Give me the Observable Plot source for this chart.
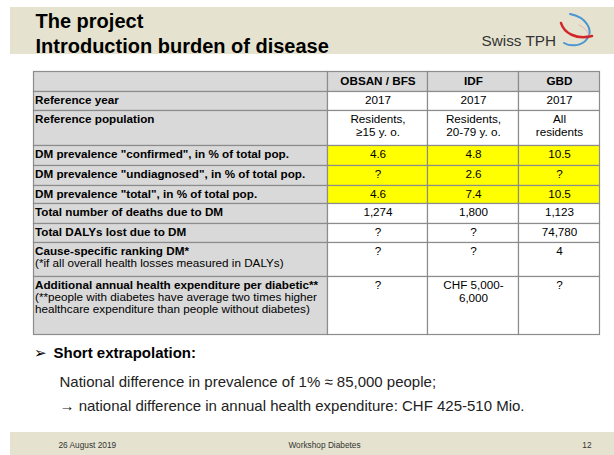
<!DOCTYPE html>
<html>
<head>
<meta charset="utf-8">
<script src="https://cdn.jsdelivr.net/npm/d3@7"></script>
<script src="https://cdn.jsdelivr.net/npm/@observablehq/plot@0.6"></script>
<style>
  html, body { margin: 0; padding: 0; background: #ffffff; }
  #chart svg { display: block; }
</style>
</head>
<body>
<div id="chart"></div>
<script>
// ---------------- DATA ----------------
const titleLines = ["The project", "Introduction burden of disease"];
const brand = "Swiss TPH";
const sources = ["OBSAN / BFS", "IDF", "GBD"];
const indicators = [
  "Reference year",
  "Reference population",
  "DM prevalence \"confirmed\", in % of total pop.",
  "DM prevalence \"undiagnosed\", in % of total pop.",
  "DM prevalence \"total\", in % of total pop.",
  "Total number of deaths due to DM",
  "Total DALYs lost due to DM",
  "Cause-specific ranking DM*",
  "Additional annual health expenditure per diabetic**"
];
const indicatorNotes = [
  "", "", "", "", "", "", "",
  "(*if all overall health losses measured in DALYs)",
  "(**people with diabetes have average two times higher\nhealthcare expenditure than people without diabetes)"
];
const obsanValues = ["2017", "Residents,\n≥15 y. o.", "4.6", "?", "4.6", "1,274", "?", "?", "?"];
const idfValues   = ["2017", "Residents,\n20-79 y. o.", "4.8", "2.6", "7.4", "1,800", "?", "?", "CHF 5,000-\n6,000"];
const gbdValues   = ["2017", "All\nresidents", "10.5", "?", "10.5", "1,123", "74,780", "4", "?"];
const extrapolationHeading = "Short extrapolation:";
const extrapolationLines = [
  "National difference in prevalence of 1% ≈ 85,000 people;",
  "→ national difference in annual health expenditure: CHF 425-510 Mio."
];
const footerTexts = ["26 August 2019", "Workshop Diabetes", "12"];

// ---------------- LAYOUT ----------------
const W = 614, H = 455;
const colEdges = [33.5, 327.5, 427.5, 518.5, 599.5];
const rowEdges = [71.5, 91.5, 110.5, 145.5, 165.5, 185.5, 203.5, 223.5, 242.5, 276.5, 334.5];
const FONT = "'Liberation Sans', Arial, Helvetica, sans-serif";
const BAND = "#e5e3cf", GRAY = "#d9d9d9", YELLOW = "#ffff00", BORDER = "#8c8c8c";
const TS = 11.7; // table font size

const valueColumns = [obsanValues, idfValues, gbdValues];

const bands = [
  {x1: 10, x2: W, y1: 7, y2: 54},
  {x1: 10, x2: W, y1: 432, y2: H}
];

const cells = [];
cells.push({x1: colEdges[0], x2: colEdges[1], y1: rowEdges[0], y2: rowEdges[1], fill: GRAY});
sources.forEach((s, j) => cells.push({x1: colEdges[j + 1], x2: colEdges[j + 2], y1: rowEdges[0], y2: rowEdges[1], fill: GRAY}));
indicators.forEach((label, i) => {
  const y1 = rowEdges[i + 1], y2 = rowEdges[i + 2];
  cells.push({x1: colEdges[0], x2: colEdges[1], y1, y2, fill: GRAY});
  const hi = label.startsWith("DM prevalence");
  valueColumns.forEach((col, j) => cells.push({x1: colEdges[j + 1], x2: colEdges[j + 2], y1, y2, fill: hi ? YELLOW : "#ffffff"}));
});

const lines = [];
function addText(str, x, baseline, lh, anchor, weight, size, color) {
  String(str).split("\n").forEach((t, k) => lines.push({text: t, x, y: baseline + k * lh, anchor, weight, size, color}));
}
const colMid = j => (colEdges[j + 1] + colEdges[j + 2]) / 2;
sources.forEach((s, j) => addText(s, colMid(j), rowEdges[0] + 12.5, 14, "middle", "bold", TS, "#000"));
indicators.forEach((label, i) => {
  const top = rowEdges[i + 1];
  const b = top + 11.5;
  addText(label, colEdges[0] + 1, b, 12.4, "start", "bold", TS, "#000");
  if (indicatorNotes[i]) addText(indicatorNotes[i], colEdges[0] + 1, b + 12.4, 12.4, "start", "normal", TS, "#000");
  valueColumns.forEach((col, j) => addText(col[i], colMid(j), b, 13.8, "middle", "normal", TS, "#000"));
});
addText(titleLines[0], 35, 27, 0, "start", "bold", 20, "#000");
addText(titleLines[1], 35, 52, 0, "start", "bold", 20, "#000");
addText(brand, 481, 45, 0, "start", "normal", 15.3, "#333");
addText("➢", 33, 357, 0, "start", "normal", 15, "#000");
addText(extrapolationHeading, 53, 357, 0, "start", "bold", 15, "#000");
addText(extrapolationLines[0], 59, 386, 0, "start", "normal", 15, "#222");
addText(extrapolationLines[1], 59, 410, 0, "start", "normal", 15, "#222");
addText(footerTexts[0], 58, 447, 0, "start", "normal", 8.3, "#333");
addText(footerTexts[1], 324, 447, 0, "middle", "normal", 8.3, "#333");
addText(footerTexts[2], 591, 447, 0, "end", "normal", 8.3, "#333");

function textMark(anchor, weight) {
  return Plot.text(lines.filter(d => d.anchor === anchor && d.weight === weight), {
    x: "x", y: "y", text: "text", fontSize: "size", fill: "color",
    textAnchor: anchor, fontWeight: weight, lineAnchor: "bottom"
  });
}

const chart = Plot.plot({
  width: W, height: H, margin: 0,
  x: {type: "identity", axis: null},
  y: {type: "identity", axis: null},
  color: {type: "identity"},
  style: {fontFamily: FONT, background: "#ffffff", overflow: "visible"},
  marks: [
    Plot.rect(bands, {x1: "x1", x2: "x2", y1: "y1", y2: "y2", fill: BAND}),
    Plot.rect(cells, {x1: "x1", x2: "x2", y1: "y1", y2: "y2", fill: "fill", stroke: BORDER, strokeWidth: 1.2}),
    textMark("start", "bold"),
    textMark("start", "normal"),
    textMark("middle", "bold"),
    textMark("middle", "normal"),
    textMark("end", "normal")
  ]
});

// logo (decorative)
const svg = d3.select(chart);
const logo = svg.append("g").attr("fill", "none").attr("stroke-linecap", "round");
logo.append("path").attr("d", "M570,14 C586,17 594,30 587,39 C582,46 571,47 564,43").attr("stroke", "#4a95d2").attr("stroke-width", 2);
logo.append("path").attr("d", "M561,23 C564,33 576,40 592,36").attr("stroke", "#d3262b").attr("stroke-width", 2.6);
logo.append("path").attr("d", "M579,25 C585,28 588,32 589,35").attr("stroke", "#e8a0a0").attr("stroke-width", 0.8);

document.getElementById("chart").appendChild(chart);
</script>
</body>
</html>
